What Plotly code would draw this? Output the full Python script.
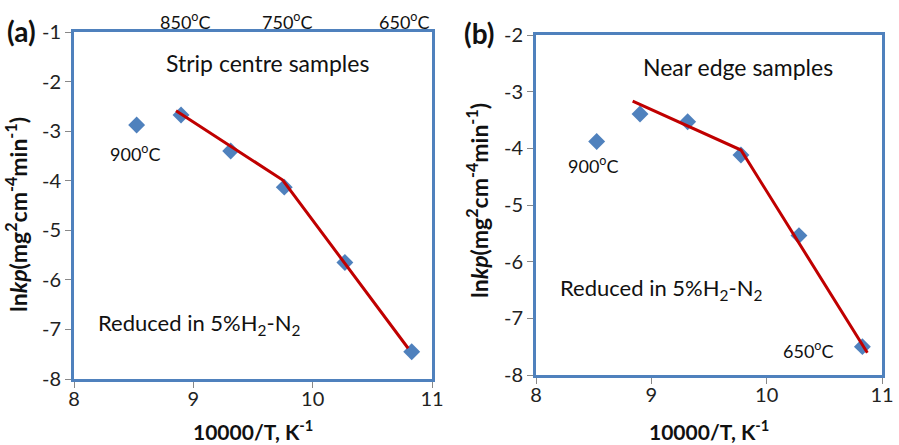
import plotly.graph_objects as go

# ---- data ----
x_a = [8.525, 8.897, 9.313, 9.762, 10.27, 10.83]
y_a = [-2.876, -2.675, -3.40, -4.13, -5.65, -7.45]
fit_x_a = [8.855, 9.749, 10.80]
fit_y_a = [-2.588, -3.986, -7.38]

x_b = [8.526, 8.902, 9.315, 9.777, 10.28, 10.83]
y_b = [-3.88, -3.394, -3.53, -4.118, -5.54, -7.50]
fit_x_b = [8.838, 9.777, 10.873]
fit_y_b = [-3.165, -4.03, -7.606]

x_ticks = [8, 9, 10, 11]
x_tick_text = ["8", "9", "10", "11"]
y_ticks_a = [-8, -7, -6, -5, -4, -3, -2, -1]
y_ticks_b = [-8, -7, -6, -5, -4, -3, -2]

W, H = 899, 445
FONT = "Lato"
BLUE = "#4F81BD"
RED = "#C00000"

def px(x):
    return x / W

def py(y):
    return (H - y) / H

fig = go.Figure()

fig.add_trace(go.Scatter(x=x_a, y=y_a, mode="markers", xaxis="x", yaxis="y",
                         marker=dict(symbol="diamond", size=13, color=BLUE),
                         showlegend=False))
fig.add_trace(go.Scatter(x=fit_x_a, y=fit_y_a, mode="lines", xaxis="x", yaxis="y",
                         line=dict(color=RED, width=3), showlegend=False))
fig.add_trace(go.Scatter(x=x_b, y=y_b, mode="markers", xaxis="x2", yaxis="y2",
                         marker=dict(symbol="diamond", size=13, color=BLUE),
                         showlegend=False))
fig.add_trace(go.Scatter(x=fit_x_b, y=fit_y_b, mode="lines", xaxis="x2", yaxis="y2",
                         line=dict(color=RED, width=3), showlegend=False))

axis_common = dict(showgrid=False, zeroline=False, showline=True, mirror=True,
                   linecolor=BLUE, linewidth=3, ticks="outside", ticklen=6,
                   tickcolor="#888888", tickwidth=1, automargin=False,
                   tickfont=dict(family=FONT, size=20, color="#222222"))

fig.update_layout(
    template="none",
    width=W, height=H,
    margin=dict(l=0, r=0, t=0, b=0, autoexpand=False),
    paper_bgcolor="white", plot_bgcolor="white",
    showlegend=False,
    xaxis=dict(domain=[px(74), px(432)], range=[8, 11], tickvals=x_ticks,
               ticktext=x_tick_text, anchor="y", ticklabelstandoff=-6, **axis_common),
    yaxis=dict(domain=[py(379), py(32)], range=[-8, -1], tickvals=y_ticks_a,
               ticktext=[str(v) for v in y_ticks_a], anchor="x", **axis_common),
    xaxis2=dict(domain=[px(536), px(882)], range=[8, 11], tickvals=x_ticks,
                ticktext=x_tick_text, anchor="y2", ticklabelstandoff=-6, **axis_common),
    yaxis2=dict(domain=[py(375), py(35)], range=[-8, -2], tickvals=y_ticks_b,
                ticktext=[str(v) for v in y_ticks_b], anchor="x2", **axis_common),
)

def ann(text, x, y, size=19, bold=False, angle=0):
    t = f"<b>{text}</b>" if bold else text
    fig.add_annotation(text=t, x=px(x), y=py(y), xref="paper", yref="paper",
                       showarrow=False, xanchor="center", yanchor="middle",
                       textangle=angle,
                       font=dict(family=FONT, size=size, color="#111111"))

# panel labels
ann("(a)", 21, 31, size=28, bold=True)
ann("(b)", 479, 33, size=28, bold=True)

# top temperature labels
ann("850<sup>o</sup>C", 185, 21, size=18)
ann("750<sup>o</sup>C", 287, 21, size=18)
ann("650<sup>o</sup>C", 404, 21, size=18)

# panel (a) texts
ann("Strip centre samples", 267, 63, size=23)
ann("900<sup>o</sup>C", 135, 153, size=18)
ann("Reduced in 5%H<sub>2</sub>-N<sub>2</sub>", 199, 324, size=22)

# panel (b) texts
ann("Near edge samples", 738, 67, size=23)
ann("900<sup>o</sup>C", 593, 165, size=18)
ann("Reduced in 5%H<sub>2</sub>-N<sub>2</sub>", 661, 289, size=22)
ann("650<sup>o</sup>C", 808, 350, size=18)

# axis titles
ytitle = "ln<i>kp</i>(mg<sup>2</sup>cm<sup>-4</sup>min<sup>-1</sup>)"
ann(ytitle, 17, 215, size=23, bold=True, angle=-90)
ann(ytitle, 477, 200, size=23, bold=True, angle=-90)
ann("10000/T, K<sup>-1</sup>", 253, 430, size=21, bold=True)
ann("10000/T, K<sup>-1</sup>", 709, 430, size=21, bold=True)

fig.write_html("out.html",
               config={"displayModeBar": False},
               post_script="document.body.style.margin='0';document.body.style.padding='0';")
